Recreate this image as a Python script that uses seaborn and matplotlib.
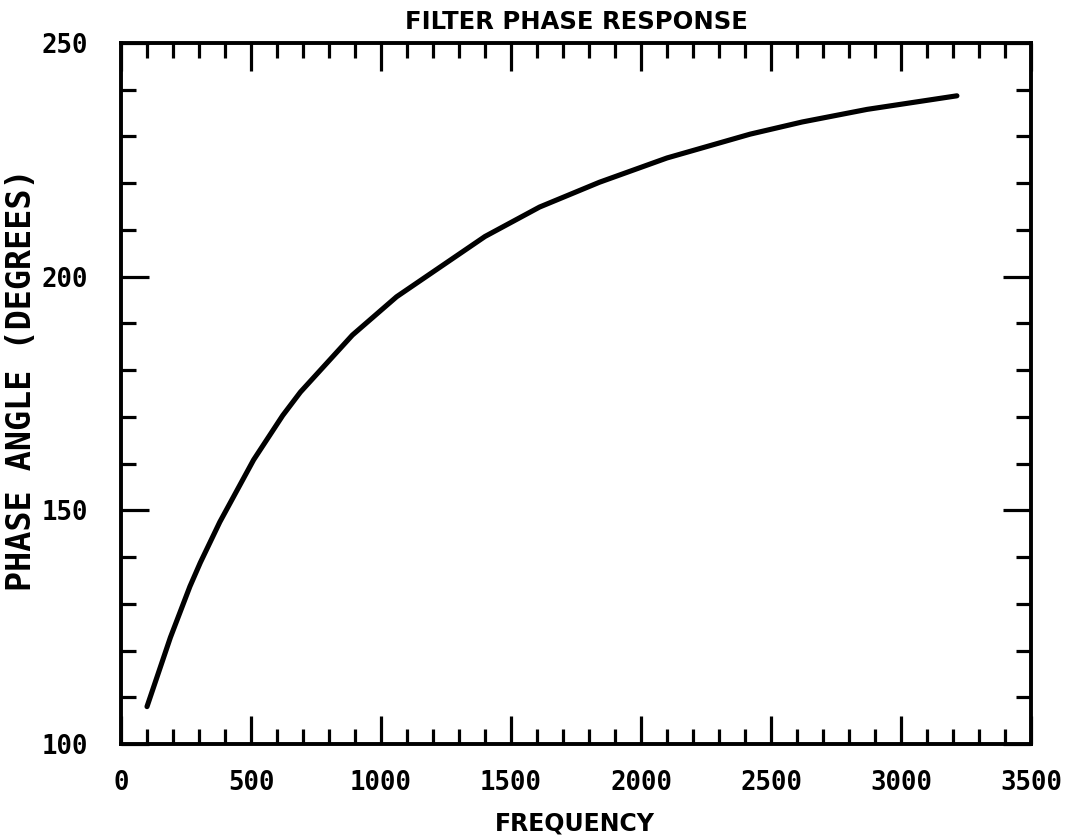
import matplotlib
matplotlib.use("Agg")
import matplotlib.pyplot as plt
from matplotlib.ticker import MultipleLocator
import numpy as np
import pandas as pd
import seaborn as sns

# ---- data ----
frequency = [100, 190, 265, 305, 380, 510, 622, 690, 890, 1060,
             1400, 1610, 1840, 2100, 2420, 2620, 2870, 3215]
phase_angle = [108.0, 122.8, 133.7, 138.8, 147.5, 160.8, 170.3, 175.3, 187.5, 195.7,
               208.6, 214.9, 220.2, 225.4, 230.5, 233.1, 235.8, 238.7]
x_ticks = [0, 500, 1000, 1500, 2000, 2500, 3000, 3500]
y_ticks = [100, 150, 200, 250]
title_text = "FILTER PHASE RESPONSE"
x_label = "FREQUENCY"
y_label = "PHASE ANGLE (DEGREES)"

sns.set_style("white")
plt.rcParams['font.family'] = ['DejaVu Sans']
plt.rcParams['text.color'] = 'black'
plt.rcParams['axes.labelcolor'] = 'black'
plt.rcParams['xtick.color'] = 'black'
plt.rcParams['ytick.color'] = 'black'

W, H = 1066, 839
fig = plt.figure(figsize=(W / 100, H / 100), dpi=100)
L, R, T, B = 121, 1031, 43, 744
ax = fig.add_axes([L / W, 1 - B / H, (R - L) / W, (B - T) / H])

df = pd.DataFrame({"freq": frequency, "phase": phase_angle})
sns.lineplot(data=df, x="freq", y="phase", ax=ax, color="black",
             linewidth=3.7, sort=False, solid_capstyle="round",
             solid_joinstyle="round")

ax.set_xlim(0, 3500)
ax.set_ylim(100, 250)
ax.set_xticks(x_ticks)
ax.set_yticks(y_ticks)
ax.xaxis.set_minor_locator(MultipleLocator(100))
ax.yaxis.set_minor_locator(MultipleLocator(10))
ax.tick_params(which='both', direction='in', top=True, right=True,
               bottom=True, left=True, color='black', width=2.3,
               labelcolor='black')
ax.tick_params(which='major', length=20)
ax.tick_params(which='minor', length=10.5)
ax.tick_params(axis='x', which='major', pad=19)
ax.tick_params(axis='y', which='major', pad=24)
for s in ax.spines.values():
    s.set_linewidth(2.8)
    s.set_color('black')

mono = ['DejaVu Sans Mono']
for lbl in ax.get_xticklabels() + ax.get_yticklabels():
    lbl.set_fontfamily(mono)
    lbl.set_fontweight('bold')
    lbl.set_fontsize(18.5)

ax.set_title(title_text, x=(576 - L) / (R - L), y=(B - 22) / (B - T), pad=0,
             va='center', ha='center', fontsize=17.5, fontweight='bold',
             family=['DejaVu Sans'], color='black')
ax.set_xlabel(x_label, fontsize=17, fontweight='bold', family=['DejaVu Sans'],
              va='center', color='black')
ax.xaxis.set_label_coords((575 - L) / (R - L), (B - 823) / (B - T))
ax.set_ylabel(y_label, fontsize=24, fontweight='bold', family=mono,
              va='center', color='black')
ax.yaxis.set_label_coords((22 - L) / (R - L), (B - 380) / (B - T))

fig.savefig("out.png", dpi=100, facecolor="white")
